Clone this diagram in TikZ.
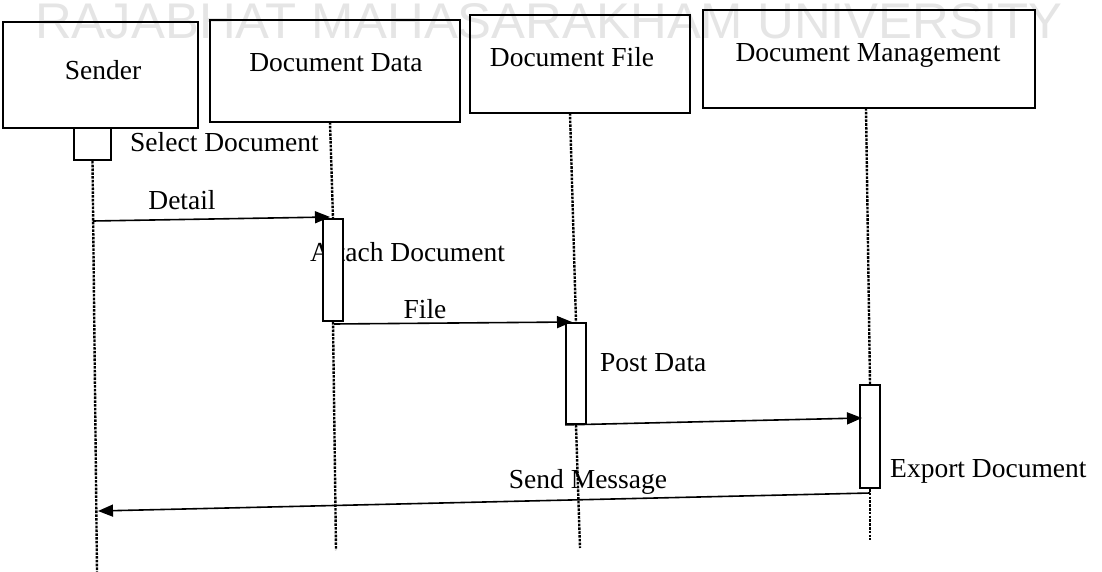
\documentclass[tikz,border=0pt]{standalone}
\usepackage{fontspec}
\usepackage{graphicx}
\setmainfont{Liberation Serif}
\newfontfamily\wmfont{Liberation Sans}
\usetikzlibrary{arrows.meta}
\begin{document}
\begin{tikzpicture}[x=1pt,y=-1pt,
  actor/.style={draw, line width=1.8pt, inner sep=0},
  actbox/.style={draw, line width=1.8pt, fill=white, inner sep=0},
  life/.style={line width=2.4pt, dash pattern=on 2.6pt off 1.2pt},
  msg/.style={line width=1.6pt, -{Triangle[length=15pt,width=12pt]}},
  lbl/.style={font=\fontsize{27.5}{30}\selectfont, inner sep=0},
]
\useasboundingbox (0,0) rectangle (1102,572);

% watermark
\node[anchor=base west, inner sep=0, text=black!10] (wm) at (35,39)
  {\resizebox{1027pt}{35pt}{\wmfont RAJABHAT MAHASARAKHAM UNIVERSITY}};

% actor boxes
\node[actor, minimum width=195pt, minimum height=106pt] (sender) at (100.5,75) {};
\node[actor, minimum width=250pt, minimum height=102pt] (ddata) at (335,71) {};
\node[actor, minimum width=220pt, minimum height=98pt] (dfile) at (580,64) {};
\node[actor, minimum width=332pt, minimum height=98pt] (dmgmt) at (869,59) {};

\node[lbl, anchor=base] (tsender) at (103,80) {Sender};
\node[lbl, anchor=base] (tddata) at (336,72) {Document Data};
\node[lbl, anchor=base] (tdfile) at (572,67) {Document File};
\node[lbl, anchor=base] (tdmgmt) at (868,62) {Document Management};

% message labels
\node[lbl, anchor=base west] (lsel) at (130,152) {Select Document};
\node[lbl, anchor=base] (ldet) at (182,209) {Detail};
\node[lbl, anchor=base west] (latt) at (310,261) {Attach Document};
\node[lbl, anchor=base] (lfile) at (425,318) {File};
\node[lbl, anchor=base west] (lpost) at (600,371) {Post Data};
\node[lbl, anchor=base] (lsend) at (588,488) {Send Message};
\node[lbl, anchor=base west] (lexp) at (890,477) {Export Document};

% coordinates
\coordinate (sEnd) at (97,572);
\coordinate (dd0) at (330,122);
\coordinate (ddEnd) at (336,550);
\coordinate (df0) at (570,113);
\coordinate (dfEnd) at (580,548);
\coordinate (dm0) at (866,108);
\coordinate (dmEnd) at (870,540);

\coordinate (detStart) at (93,221);
\coordinate (detEnd) at (330,217);
\coordinate (fileStart) at (334,324);
\coordinate (fileEnd) at (572,322);
\coordinate (postEnd) at (862,418);
\coordinate (sendStart) at (870,493);
\coordinate (sendEnd) at (98,511);

% activation boxes
\path (92.5,144) node[actbox, minimum width=37pt, minimum height=32pt] (sa) {};
\path (333,270) node[actbox, minimum width=20pt, minimum height=102pt] (dda) {};
\path (576,373.5) node[actbox, minimum width=20pt, minimum height=101pt] (dfa) {};
\path (870,436.5) node[actbox, minimum width=20pt, minimum height=103pt] (dma) {};

% lifelines
\draw[life] (sa.south) -- (sEnd);
\draw[life] (dd0) -- (dda.north);
\draw[life] (dda.south) -- (ddEnd);
\draw[life] (df0) -- (dfa.north);
\draw[life] (dfa.south) -- (dfEnd);
\draw[life] (dm0) -- (dma.north);
\draw[life] (dma.south) -- (dmEnd);

% redraw activation boxes on top of lifeline ends
\path (92.5,144) node[actbox, minimum width=37pt, minimum height=32pt] {};
\path (333,270) node[actbox, minimum width=20pt, minimum height=102pt] {};
\path (576,373.5) node[actbox, minimum width=20pt, minimum height=101pt] {};
\path (870,436.5) node[actbox, minimum width=20pt, minimum height=103pt] {};

% messages
\draw[msg] (detStart) -- (detEnd);
\draw[msg] (fileStart) -- (fileEnd);
\draw[msg] (dfa.south west) -- (postEnd);
\draw[msg] (sendStart) -- (sendEnd);
\end{tikzpicture}
\end{document}
